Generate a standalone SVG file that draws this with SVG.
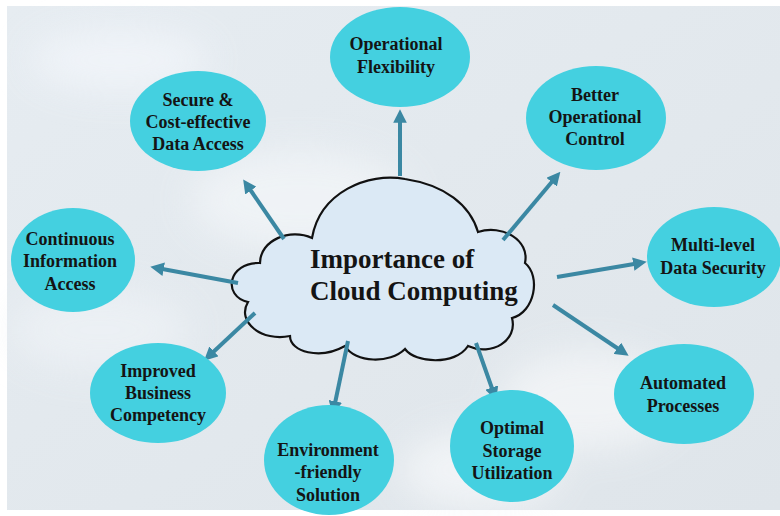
<svg xmlns="http://www.w3.org/2000/svg" width="780" height="516" viewBox="0 0 780 516">
<defs>
<style>
.node ellipse{fill:#44d0e0;}
.node text{font-family:"Liberation Serif","DejaVu Serif",serif;font-weight:bold;font-size:18px;fill:#141414;text-anchor:middle;}
.conn line{stroke:#3b88a3;stroke-width:4;marker-end:url(#ah);}
.title{font-family:"Liberation Serif","DejaVu Serif",serif;font-weight:bold;font-size:27px;fill:#141414;}
</style>
<marker id="ah" viewBox="0 0 10 10" refX="5" refY="5" markerWidth="3.4" markerHeight="3.4" orient="auto" markerUnits="strokeWidth">
<path d="M0,0 L10,5 L0,10 Z" fill="#3b88a3"/>
</marker>
<filter id="blur" x="-50%" y="-50%" width="200%" height="200%"><feGaussianBlur stdDeviation="18"/></filter>
<linearGradient id="bg" x1="0" y1="0" x2="1" y2="1">
<stop offset="0" stop-color="#e6ecf1"/>
<stop offset="1" stop-color="#dfe5ea"/>
</linearGradient>
</defs>
<rect x="0" y="0" width="780" height="516" fill="#ffffff"/>
<rect x="7" y="6" width="773" height="504" fill="url(#bg)"/>
<g filter="url(#blur)" opacity="0.8">
<ellipse cx="120" cy="60" rx="90" ry="30" fill="#f3f6fb"/>
<ellipse cx="300" cy="200" rx="110" ry="50" fill="#f2f5f8"/>
<ellipse cx="590" cy="400" rx="90" ry="50" fill="#f4f6f8"/>
<ellipse cx="480" cy="470" rx="80" ry="40" fill="#f5f7f9"/>
<ellipse cx="100" cy="330" rx="90" ry="40" fill="#eef2f6"/>
</g>
<g id="cloud">
<path d="M248,302 C222,296 228,262 260,263 C260,240 290,228 312,238 C320,192 368,172 405,179 C445,185 470,205 478,232 C502,224 530,240 525,263 C541,276 535,312 512,318 C518,340 492,357 468,346 C455,366 415,363 405,349 C390,364 355,363 345,346 C320,360 290,352 290,336 C262,342 236,322 248,302 Z" fill="#dbe9f5" stroke="#111" stroke-width="2.2"/>
<text class="title" x="310" y="268">Importance of</text>
<text class="title" x="310" y="300">Cloud Computing</text>
</g>
<g id="connectors" class="conn">
<line x1="400" y1="176" x2="400" y2="116"/>
<line x1="503" y1="240" x2="556" y2="177"/>
<line x1="284" y1="239" x2="247" y2="185"/>
<line x1="238" y1="283" x2="157" y2="268"/>
<line x1="557" y1="277" x2="640" y2="263"/>
<line x1="255" y1="313" x2="209" y2="356"/>
<line x1="553" y1="305" x2="623" y2="352"/>
<line x1="348" y1="341" x2="334" y2="408"/>
<line x1="476" y1="343" x2="494" y2="394"/>
</g>
<g id="n1" class="node"><ellipse cx="400" cy="57" rx="70" ry="50"/><text x="396" y="50">Operational</text><text x="396" y="73">Flexibility</text></g>
<g id="n2" class="node"><ellipse cx="596" cy="118" rx="70" ry="52"/><text x="595" y="101">Better</text><text x="595" y="123">Operational</text><text x="595" y="145">Control</text></g>
<g id="n3" class="node"><ellipse cx="198" cy="121" rx="68" ry="50"/><text x="198" y="106">Secure &amp;</text><text x="198" y="128">Cost-effective</text><text x="198" y="150">Data Access</text></g>
<g id="n4" class="node"><ellipse cx="73" cy="260" rx="62" ry="52"/><text x="70" y="245">Continuous</text><text x="70" y="267">Information</text><text x="70" y="290">Access</text></g>
<g id="n5" class="node"><ellipse cx="714" cy="257" rx="67" ry="50"/><text x="713" y="251">Multi-level</text><text x="713" y="274">Data Security</text></g>
<g id="n6" class="node"><ellipse cx="158" cy="393" rx="68" ry="50"/><text x="158" y="377">Improved</text><text x="158" y="399">Business</text><text x="158" y="421">Competency</text></g>
<g id="n7" class="node"><ellipse cx="684" cy="394" rx="70" ry="50"/><text x="683" y="389">Automated</text><text x="683" y="412">Processes</text></g>
<g id="n8" class="node"><ellipse cx="329" cy="460" rx="65" ry="55"/><text x="328" y="456">Environment</text><text x="328" y="478">-friendly</text><text x="328" y="501">Solution</text></g>
<g id="n9" class="node"><ellipse cx="512" cy="446" rx="62" ry="56"/><text x="512" y="434">Optimal</text><text x="512" y="457">Storage</text><text x="512" y="479">Utilization</text></g>
</svg>
